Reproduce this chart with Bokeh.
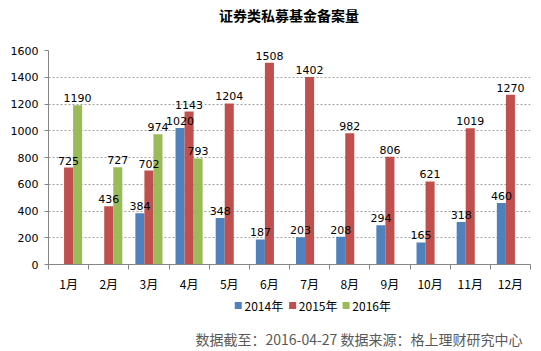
from bokeh.plotting import figure
from bokeh.layouts import column
from bokeh.models import ColumnDataSource, FixedTicker, Range1d
from bokeh.transform import dodge
from bokeh.embed import file_html
from bokeh.resources import INLINE
from bokeh.core.properties import value

months = ["1月", "2月", "3月", "4月", "5月", "6月", "7月", "8月", "9月", "10月", "11月", "12月"]
v2014 = [None, None, 384, 1020, 348, 187, 203, 208, 294, 165, 318, 460]
v2015 = [725, 436, 702, 1143, 1204, 1508, 1402, 982, 806, 621, 1019, 1270]
v2016 = [1190, 727, 974, 793, None, None, None, None, None, None, None, None]
series_names = ["2014年", "2015年", "2016年"]
series_values = [v2014, v2015, v2016]
series_colors = ["#4F81BD", "#C0504D", "#9BBB59"]
y_ticks = [0, 200, 400, 600, 800, 1000, 1200, 1400, 1600]
title_text = "证券类私募基金备案量"
footer_text = "数据截至：2016-04-27 数据来源：格上理财研究中心"

offsets = [-0.225, 0.0, 0.225]


def strip(h):
    f = figure(width=541, height=h, output_backend="svg", toolbar_location=None,
               x_range=Range1d(0, 541), y_range=Range1d(0, h),
               min_border=0, x_axis_type=None, y_axis_type=None)
    f.outline_line_color = None
    f.xgrid.grid_line_color = None
    f.ygrid.grid_line_color = None
    f.border_fill_color = "white"
    return f


# top strip: title
t = strip(30)
t.text(x=[270], y=[16], text=[title_text], text_align="center", text_baseline="middle",
       text_font=value("Noto Sans CJK SC"), text_font_size="14px", text_font_style="bold",
       text_color="#000000")

p = figure(width=541, height=264, output_backend="svg", toolbar_location=None,
           x_range=Range1d(0.5, 12.5), y_range=Range1d(0, 1600),
           min_border_left=48, min_border_right=11, min_border_top=20, min_border_bottom=30)
p.outline_line_color = None
p.background_fill_color = "white"
p.border_fill_color = "white"

sources = []
for vals, color, off in zip(series_values, series_colors, offsets):
    xs = [i + 1 for i, v in enumerate(vals) if v is not None]
    ys = [v for v in vals if v is not None]
    src = ColumnDataSource(dict(x=xs, y=ys, t=[str(v) for v in ys]))
    p.vbar(x=dodge("x", off), top="y", width=0.225, source=src,
           fill_color=color, line_color=None)
    sources.append((src, off))

for src, off in sources:
    p.text(x=dodge("x", off), y="y", text="t", source=src, text_align="center",
           text_baseline="bottom", y_offset=-3, text_font_size="11px",
           text_font=value("DejaVu Sans"), text_color="#000000")

p.xaxis.ticker = FixedTicker(ticks=list(range(1, 13)), minor_ticks=[i + 0.5 for i in range(13)])
p.xaxis.major_label_overrides = {i + 1: m for i, m in enumerate(months)}
p.xaxis.major_tick_out = 0
p.xaxis.major_tick_in = 0
p.xaxis.minor_tick_out = 5
p.xaxis.minor_tick_in = 0
p.xaxis.minor_tick_line_color = "#868686"
p.xaxis.axis_line_color = "#868686"
p.xaxis.major_label_text_font = "Noto Sans CJK SC"
p.xaxis.major_label_text_font_size = "12px"
p.xaxis.major_label_text_color = "#000000"
p.xaxis.major_label_standoff = 5

p.yaxis.ticker = FixedTicker(ticks=y_ticks)
p.yaxis.minor_tick_line_color = None
p.yaxis.major_tick_out = 4
p.yaxis.major_tick_in = 0
p.yaxis.major_tick_line_color = "#868686"
p.yaxis.axis_line_color = "#868686"
p.yaxis.major_label_text_font = "DejaVu Sans"
p.yaxis.major_label_text_font_size = "11px"
p.yaxis.major_label_text_color = "#000000"
p.yaxis.major_label_standoff = 6

p.xgrid.grid_line_color = None
p.ygrid.grid_line_color = "#A0A0A0"
p.ygrid.grid_line_dash = "2 2"

# bottom strip: legend and source note
q = strip(57)
leg_x = [213, 274, 334]
q.scatter(x=leg_x, y=[46] * 3, marker="square", size=7, color=series_colors, line_color=None)
q.text(x=[x + 7 for x in leg_x], y=[46] * 3, text=series_names, text_align="left",
       text_baseline="middle", text_font=value("Noto Sans CJK SC"), text_font_size="12px",
       text_color="#000000")
q.text(x=[532], y=[13], text=[footer_text], text_align="right", text_baseline="middle",
       text_font=value("Noto Sans CJK SC"), text_font_size="14px", text_color="#595959")

layout = column(t, p, q, spacing=0)
open("out.html", "w").write(file_html(layout, INLINE))
